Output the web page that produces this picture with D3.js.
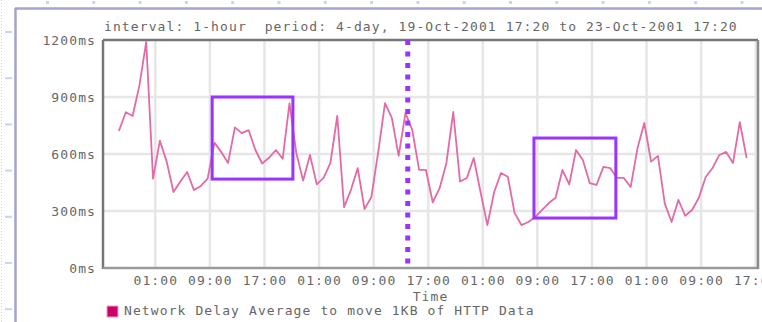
<!DOCTYPE html>
<html>
<head>
<meta charset="utf-8">
<script src="https://cdn.jsdelivr.net/npm/d3@7"></script>
<style>
  body { margin: 0; background: #fff; }
  text { font-family: "DejaVu Sans Mono", monospace; font-size: 13px; letter-spacing: 1.1px; fill: #666; white-space: pre; }
</style>
</head>
<body>
<div id="chart"></div>
<script>
// period shown
var periodStart = new Date(2001, 9, 19, 17, 20);
var periodEnd   = new Date(2001, 9, 23, 17, 20);
var firstSample = new Date(2001, 9, 19, 19, 40);

// hourly delay averages (ms)
var delayMs = [
  721, 820, 800, 960, 1190, 470, 670, 560, 400, 455,
  505, 410, 432, 470, 660, 610, 553, 740, 710, 726,
  621, 550, 580, 621, 575, 868, 605, 460, 595, 440,
  474, 553, 800, 320, 410, 526, 310, 374, 610, 868,
  790, 590, 816, 726, 516, 516, 345, 420, 553, 821,
  455, 474, 579, 400, 226, 400, 500, 480, 289, 226,
  242, 268, 305, 342, 370, 516, 440, 621, 568, 447,
  437, 532, 526, 474, 474, 426, 630, 763, 560, 590,
  340, 242, 358, 275, 305, 370, 479, 526, 595, 611,
  553, 768, 579
];

var yTicks = [0, 300, 600, 900, 1200];

// highlighted windows: [from, to, top ms, bottom ms]
var boxes = [
  [new Date(2001, 9, 20, 9, 20), new Date(2001, 9, 20, 21, 10), 900, 468],
  [new Date(2001, 9, 22, 8, 30), new Date(2001, 9, 22, 20, 30), 684, 263]
];
var markerTime = new Date(2001, 9, 21, 14, 0);

var titleText  = "interval: 1-hour  period: 4-day, 19-Oct-2001 17:20 to 23-Oct-2001 17:20";
var legendText = "Network Delay Average to move 1KB of HTTP Data";

var data = delayMs.map((v, i) => ({ t: d3.timeHour.offset(firstSample, i), v: v }));

var W = 762, H = 322;
var plot = { left: 103, right: 758, top: 40, bottom: 268 };

var svg = d3.select("#chart").append("svg")
  .attr("width", W).attr("height", H);

// page decoration: layout grid dots and frame
var dotYs = d3.range(32, H, 46.2);
svg.append("line")
  .attr("x1", 1.5).attr("x2", 1.5).attr("y1", 0).attr("y2", H)
  .attr("stroke", "#c9d3f3").attr("stroke-dasharray", "1,2");
svg.selectAll(".ldot").data(dotYs).enter().append("rect")
  .attr("x", 5).attr("y", d => d - 1).attr("width", 7).attr("height", 2)
  .attr("fill", "#c9d3f3");
svg.selectAll(".tdot").data(d3.range(47, W, 46.3)).enter().append("rect")
  .attr("x", d => d - 1).attr("y", 1).attr("width", 3).attr("height", 3)
  .attr("fill", "#c9d3f3");
svg.append("line").attr("x1", 15.5).attr("x2", 15.5).attr("y1", 8).attr("y2", H)
  .attr("stroke", "#a3a3cc").attr("stroke-width", 2.5);
svg.append("line").attr("x1", 15).attr("x2", W).attr("y1", 8.5).attr("y2", 8.5)
  .attr("stroke", "#a3a3cc").attr("stroke-width", 2.5);

var x = d3.scaleTime().domain([periodStart, periodEnd]).range([plot.left, plot.right]);
var y = d3.scaleLinear().domain([0, 1200]).range([plot.bottom, plot.top]);

var xTickTimes = d3.timeHour.range(periodStart, periodEnd).filter(d => d.getHours() % 8 === 1);

// grid
svg.append("g").selectAll("line").data(xTickTimes).enter().append("line")
  .attr("x1", d => x(d)).attr("x2", d => x(d))
  .attr("y1", plot.top).attr("y2", plot.bottom)
  .attr("stroke", "#e6e6e6").attr("stroke-width", 2.5);
svg.append("g").selectAll("line").data(yTicks.slice(1, -1)).enter().append("line")
  .attr("x1", plot.left).attr("x2", plot.right)
  .attr("y1", d => y(d)).attr("y2", d => y(d))
  .attr("stroke", "#e6e6e6").attr("stroke-width", 2.5);

// frame
svg.append("line").attr("x1", plot.left).attr("x2", plot.right).attr("y1", plot.top).attr("y2", plot.top)
  .attr("stroke", "#767676").attr("stroke-width", 2.5);
svg.append("line").attr("x1", plot.left).attr("x2", plot.left).attr("y1", plot.top).attr("y2", plot.bottom + 1)
  .attr("stroke", "#767676").attr("stroke-width", 2.5);
svg.append("line").attr("x1", plot.left).attr("x2", plot.right).attr("y1", plot.bottom).attr("y2", plot.bottom)
  .attr("stroke", "#9a9a9a").attr("stroke-width", 2.5);
svg.append("line").attr("x1", plot.right).attr("x2", plot.right).attr("y1", plot.top).attr("y2", plot.bottom + 1)
  .attr("stroke", "#8a8a8a").attr("stroke-width", 2.5);

// axes labels
var yAxis = d3.axisLeft(y).tickValues(yTicks).tickSize(0).tickPadding(7).tickFormat(d => d + "ms");
svg.append("g").attr("transform", `translate(${plot.left},0)`).call(yAxis)
  .call(g => g.select(".domain").remove());

var xAxis = d3.axisBottom(x).tickValues(xTickTimes).tickSize(0).tickPadding(8)
  .tickFormat(d3.timeFormat("%H:%M"));
svg.append("g").attr("transform", `translate(0,${plot.bottom})`).call(xAxis)
  .call(g => g.select(".domain").remove());

svg.selectAll(".tick text").attr("fill", "#666")
  .style("font-family", '"DejaVu Sans Mono", monospace').style("font-size", "13px");

// series line
var line = d3.line().x(d => x(d.t)).y(d => y(d.v));
svg.append("path").datum(data)
  .attr("d", line)
  .attr("fill", "none")
  .attr("stroke", "#e36aa6")
  .attr("stroke-width", 1.8)
  .attr("stroke-linejoin", "round");

// highlight boxes
svg.selectAll(".box").data(boxes).enter().append("rect")
  .attr("x", d => x(d[0])).attr("y", d => y(d[2]))
  .attr("width", d => x(d[1]) - x(d[0])).attr("height", d => y(d[3]) - y(d[2]))
  .attr("fill", "none").attr("stroke", "#9933ff").attr("stroke-width", 3);

// marker line
svg.append("line")
  .attr("x1", x(markerTime)).attr("x2", x(markerTime))
  .attr("y1", plot.top).attr("y2", plot.bottom)
  .attr("stroke", "#9933ff").attr("stroke-width", 5)
  .attr("stroke-dasharray", "5,6.5");

// title, axis title, legend
svg.append("text").attr("x", 104).attr("y", 31).text(titleText);
svg.append("text").attr("x", (plot.left + plot.right) / 2).attr("y", 301)
  .attr("text-anchor", "middle").text("Time");
svg.append("rect").attr("x", 107).attr("y", 306).attr("width", 11).attr("height", 11)
  .attr("fill", "#cc0066").attr("stroke", "#eaa0c8").attr("stroke-width", 1);
svg.append("text").attr("x", 124).attr("y", 315).text(legendText);
</script>
</body>
</html>
